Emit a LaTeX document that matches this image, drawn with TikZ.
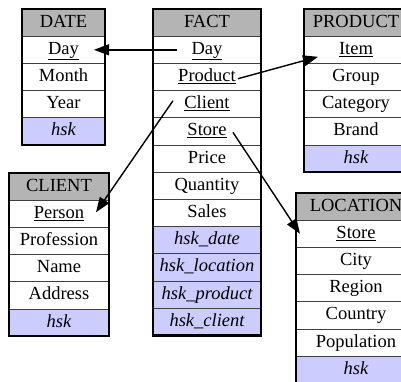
\documentclass[tikz,border=0pt]{standalone}
\usepackage{fontspec}
\setmainfont{Liberation Serif}
\usetikzlibrary{arrows.meta,calc}
\definecolor{hdrgray}{RGB}{180,180,180}
\definecolor{hskblue}{RGB}{204,204,255}
\begin{document}
\begin{tikzpicture}[x=1pt,y=1pt,
  cell/.style={draw=black!75, line width=0.8pt, inner sep=0pt, outer sep=0pt, anchor=north west,
    minimum height=27.2pt, text height=12.5pt, text depth=3.5pt,
    font=\fontsize{18.5}{20}\selectfont, fill=white},
  hdr/.style={cell, fill=hdrgray},
  hsk/.style={cell, fill=hskblue, font=\fontsize{18.5}{20}\selectfont\itshape},
  outer/.style={draw=black, line width=2.2pt},
  conn/.style={draw=black, line width=1.4pt, -{Triangle[length=15pt,width=11pt]}}
]
\useasboundingbox (0,0) rectangle (401,-381);
\begin{scope}
\clip (0,0) rectangle (401,-381);
% DATE
\node[hdr, minimum width=83pt] (d0) at (22,-9) {DATE};
\node[cell, minimum width=83pt] (d1) at (d0.south west) {\underline{Day}};
\node[cell, minimum width=83pt] (d2) at (d1.south west) {Month};
\node[cell, minimum width=83pt] (d3) at (d2.south west) {Year};
\node[hsk, minimum width=83pt] (d4) at (d3.south west) {hsk};
\draw[outer] (d0.north west) rectangle (d4.south east);
% FACT
\node[hdr, minimum width=108pt] (f0) at (153,-9) {FACT};
\node[cell, minimum width=108pt] (f1) at (f0.south west) {\underline{Day}};
\node[cell, minimum width=108pt] (f2) at (f1.south west) {\underline{Product}};
\node[cell, minimum width=108pt] (f3) at (f2.south west) {\underline{Client}};
\node[cell, minimum width=108pt] (f4) at (f3.south west) {\underline{Store}};
\node[cell, minimum width=108pt] (f5) at (f4.south west) {Price};
\node[cell, minimum width=108pt] (f6) at (f5.south west) {Quantity};
\node[cell, minimum width=108pt] (f7) at (f6.south west) {Sales};
\node[hsk, minimum width=108pt] (f8) at (f7.south west) {hsk\_date};
\node[hsk, minimum width=108pt] (f9) at (f8.south west) {hsk\_location};
\node[hsk, minimum width=108pt] (f10) at (f9.south west) {hsk\_product};
\node[hsk, minimum width=108pt] (f11) at (f10.south west) {hsk\_client};
\draw[outer] (f0.north west) rectangle (f11.south east);
% PRODUCT
\node[hdr, minimum width=104pt] (p0) at (304,-9) {PRODUCT};
\node[cell, minimum width=104pt] (p1) at (p0.south west) {\underline{Item}};
\node[cell, minimum width=104pt] (p2) at (p1.south west) {Group};
\node[cell, minimum width=104pt] (p3) at (p2.south west) {Category};
\node[cell, minimum width=104pt] (p4) at (p3.south west) {Brand};
\node[hsk, minimum width=104pt] (p5) at (p4.south west) {hsk};
\draw[outer] (p0.north west) rectangle (p5.south east);
% CLIENT
\node[hdr, minimum width=100pt] (c0) at (9,-173) {CLIENT};
\node[cell, minimum width=100pt] (c1) at (c0.south west) {\underline{Person}};
\node[cell, minimum width=100pt] (c2) at (c1.south west) {Profession};
\node[cell, minimum width=100pt] (c3) at (c2.south west) {Name};
\node[cell, minimum width=100pt] (c4) at (c3.south west) {Address};
\node[hsk, minimum width=100pt] (c5) at (c4.south west) {hsk};
\draw[outer] (c0.north west) rectangle (c5.south east);
% LOCATION
\node[hdr, minimum width=120pt] (l0) at (296,-193) {LOCATION};
\node[cell, minimum width=120pt] (l1) at (l0.south west) {\underline{Store}};
\node[cell, minimum width=120pt] (l2) at (l1.south west) {City};
\node[cell, minimum width=120pt] (l3) at (l2.south west) {Region};
\node[cell, minimum width=120pt] (l4) at (l3.south west) {Country};
\node[cell, minimum width=120pt] (l5) at (l4.south west) {Population};
\node[hsk, minimum width=120pt] (l6) at (l5.south west) {hsk};
\draw[outer] (l0.north west) rectangle (l6.south east);
% connectors
\draw[conn] ($(f1.center)+(-30,0)$) -- ($(d1.center)+(30.5,0)$);
\draw[conn] ($(f2.center)+(31,-1.7)$) -- ($(p1.center)+(-38,-7)$);
\draw[conn] ($(f3.center)+(-34,3.5)$) -- ($(c1.center)+(37,1.5)$);
\draw[conn] ($(f4.center)+(26,-1)$) -- ($(l1.center)+(-56,0)$);
\end{scope}
\end{tikzpicture}
\end{document}
